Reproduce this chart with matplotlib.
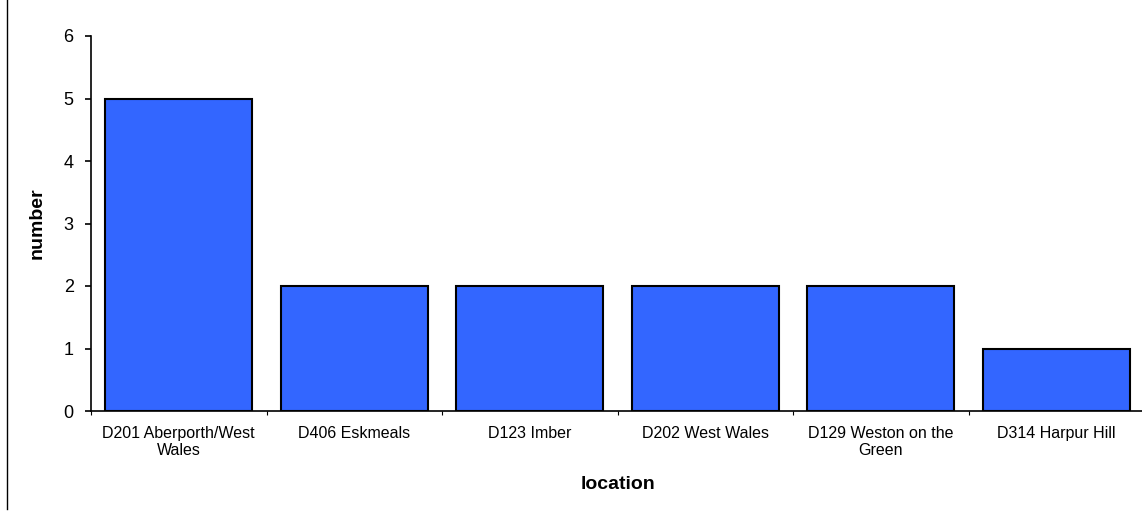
import matplotlib
matplotlib.use("Agg")
import matplotlib.pyplot as plt
from matplotlib.lines import Line2D

locations = [
    "D201 Aberporth/West\nWales",
    "D406 Eskmeals",
    "D123 Imber",
    "D202 West Wales",
    "D129 Weston on the\nGreen",
    "D314 Harpur Hill",
]
counts = [5, 2, 2, 2, 2, 1]

plt.rcParams['font.family'] = ['Liberation Sans', 'DejaVu Sans']

fig = plt.figure(figsize=(11.42, 5.12), dpi=100)
fig.set_facecolor('white')
ax = fig.add_axes([91 / 1142, 101 / 512, 1053 / 1142, 375 / 512])

x = list(range(len(locations)))
ax.bar(x, counts, width=0.84, color='#3366FF', edgecolor='black', linewidth=1.5, zorder=3)

ax.set_xlim(-0.5, len(locations) - 0.5)
ax.set_ylim(0, 6)
ax.set_yticks(range(0, 7))

ax.set_xticks(x)
ax.set_xticklabels(locations, fontsize=11.5, linespacing=1.15)
ax.set_xticks([i - 0.5 for i in range(len(locations) + 1)], minor=True)
ax.tick_params(axis='x', which='major', length=0, pad=11)
ax.tick_params(axis='x', which='minor', length=3, width=0.8, direction='out')
ax.tick_params(axis='y', length=4.5, width=1.2, direction='out', labelsize=13, pad=8)

for side in ('top', 'right'):
    ax.spines[side].set_visible(False)
ax.spines['left'].set_linewidth(1.2)
ax.spines['bottom'].set_linewidth(1.2)

ax.set_xlabel('location', fontsize=14, fontweight='bold', labelpad=13)
ax.set_ylabel('number', fontsize=14, fontweight='bold', labelpad=13)

# frame line at the far left
fig.add_artist(Line2D([7 / 1142, 7 / 1142], [0.005, 1.0], color='black', linewidth=1.0))

fig.savefig('out.png', dpi=100, facecolor='white')
